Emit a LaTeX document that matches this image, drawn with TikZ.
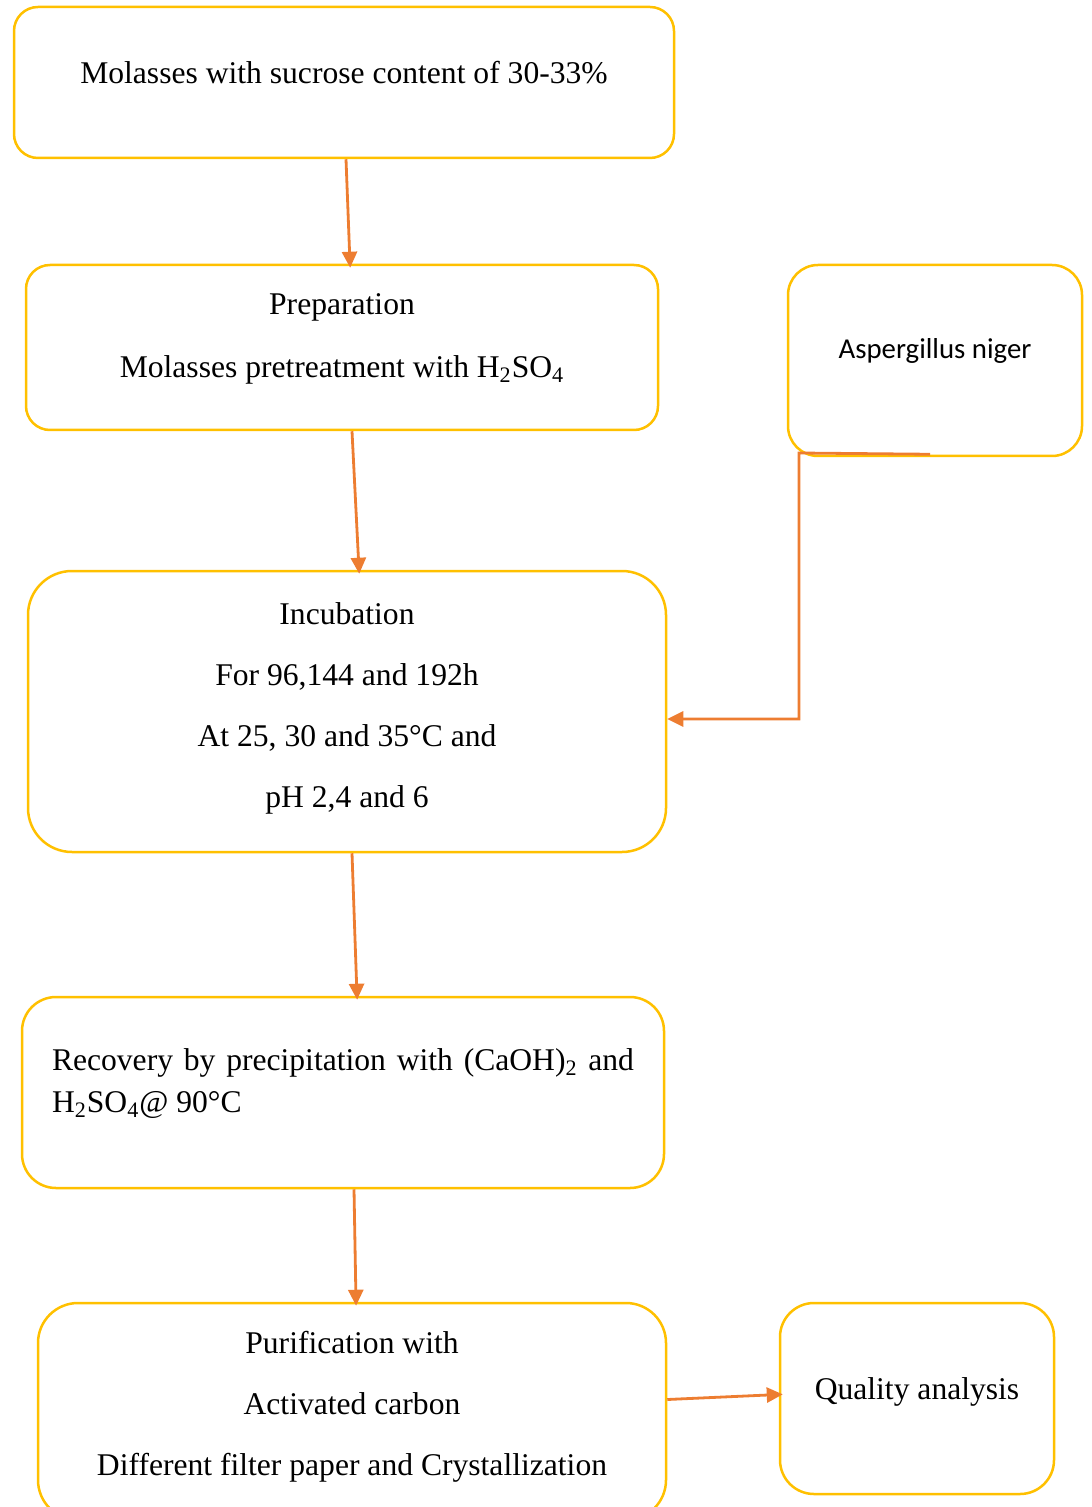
\documentclass[tikz,border=0pt]{standalone}
\usepackage{fontspec}
\setmainfont{Liberation Serif}
\newfontfamily\aspfont{Carlito}
\usepackage{xcolor}
\usepackage{tikz}
\usetikzlibrary{positioning, arrows.meta}
\definecolor{boxgold}{HTML}{FFC000}
\definecolor{arrorange}{HTML}{ED7D31}

\begin{document}
\begin{tikzpicture}[
      x=0.5pt, y=-0.5pt,
      every node/.style={font=\fontsize{15.8}{30.5}\selectfont},
      box/.style={draw=boxgold, line width=1.25pt, rounded corners=12pt,
                  align=center, inner sep=0pt},
      lift/.style={execute at end node={\rule[-#1]{0pt}{#1}}},
      arr/.style={-{Triangle[length=8pt,width=7.5pt]}, draw=arrorange,
                  line width=1.4pt, shorten >=-2pt},
    ]
    \clip (0,0) rectangle (1091,1507);

    %% Main chain (vertical)
    \node[box, lift=10.3pt, minimum width=330pt, minimum height=75.5pt] (molasses) at (344,82.5)
      {Molasses with sucrose content of 30-33\%};
    \node[box, lift=11.5pt, minimum width=316pt, minimum height=82.5pt] (prep) at (342,347.5)
      {Preparation\\[1pt]Molasses pretreatment with H\textsubscript{2}SO\textsubscript{4}};
    \node[box, lift=6.4pt, rounded corners=22pt, minimum width=319pt, minimum height=140.5pt] (incub) at (347,711.5)
      {Incubation\\For 96,144 and 192h\\At 25, 30 and 35°C and\\pH 2,4 and 6};
    \node[box, lift=12pt, rounded corners=17pt, minimum width=321pt, minimum height=95.5pt,
          text width=291pt, align=justify, font=\fontsize{15.8}{21}\selectfont] (recov) at (343,1092.5)
      {Recovery by precipitation with (CaOH)\textsubscript{2} and H\textsubscript{2}SO\textsubscript{4}@ 90°C};
    \node[box, lift=8.4pt, rounded corners=20pt, minimum width=314pt, minimum height=108.5pt] (purif) at (352,1411.5)
      {Purification with\\Activated carbon\\Different filter paper and Crystallization};

    %% Side boxes
    \node[box, lift=11.6pt, rounded corners=15pt, minimum width=147pt, minimum height=95.5pt,
          font=\aspfont\fontsize{14.4}{17}\selectfont] (asp) at (935,360.5)
      {Aspergillus niger};
    \node[box, lift=10.4pt, rounded corners=17pt, minimum width=137pt, minimum height=95.5pt] (quality) at (917,1398.5)
      {Quality analysis};

    %% Connectors
    \draw[arr] ([xshift=1pt]molasses.south) -- ([xshift=4pt]prep.north);
    \draw[arr] ([xshift=5pt]prep.south)     -- ([xshift=6pt]incub.north);
    \draw[arr] ([xshift=2.5pt]incub.south)  -- ([xshift=7pt]recov.north);
    \draw[arr] ([xshift=5.5pt]recov.south)  -- ([xshift=2pt]purif.north);
    \draw[arr] ([yshift=6pt]purif.east)     -- ([yshift=2pt]quality.west);

    \coordinate (bend) at (799,453);
    \draw[arr, shorten >=0pt] ([xshift=-2.5pt,yshift=1.5pt]asp.south) -- (bend) |- ([yshift=-3.75pt]incub.east);
  \end{tikzpicture}
\end{document}
